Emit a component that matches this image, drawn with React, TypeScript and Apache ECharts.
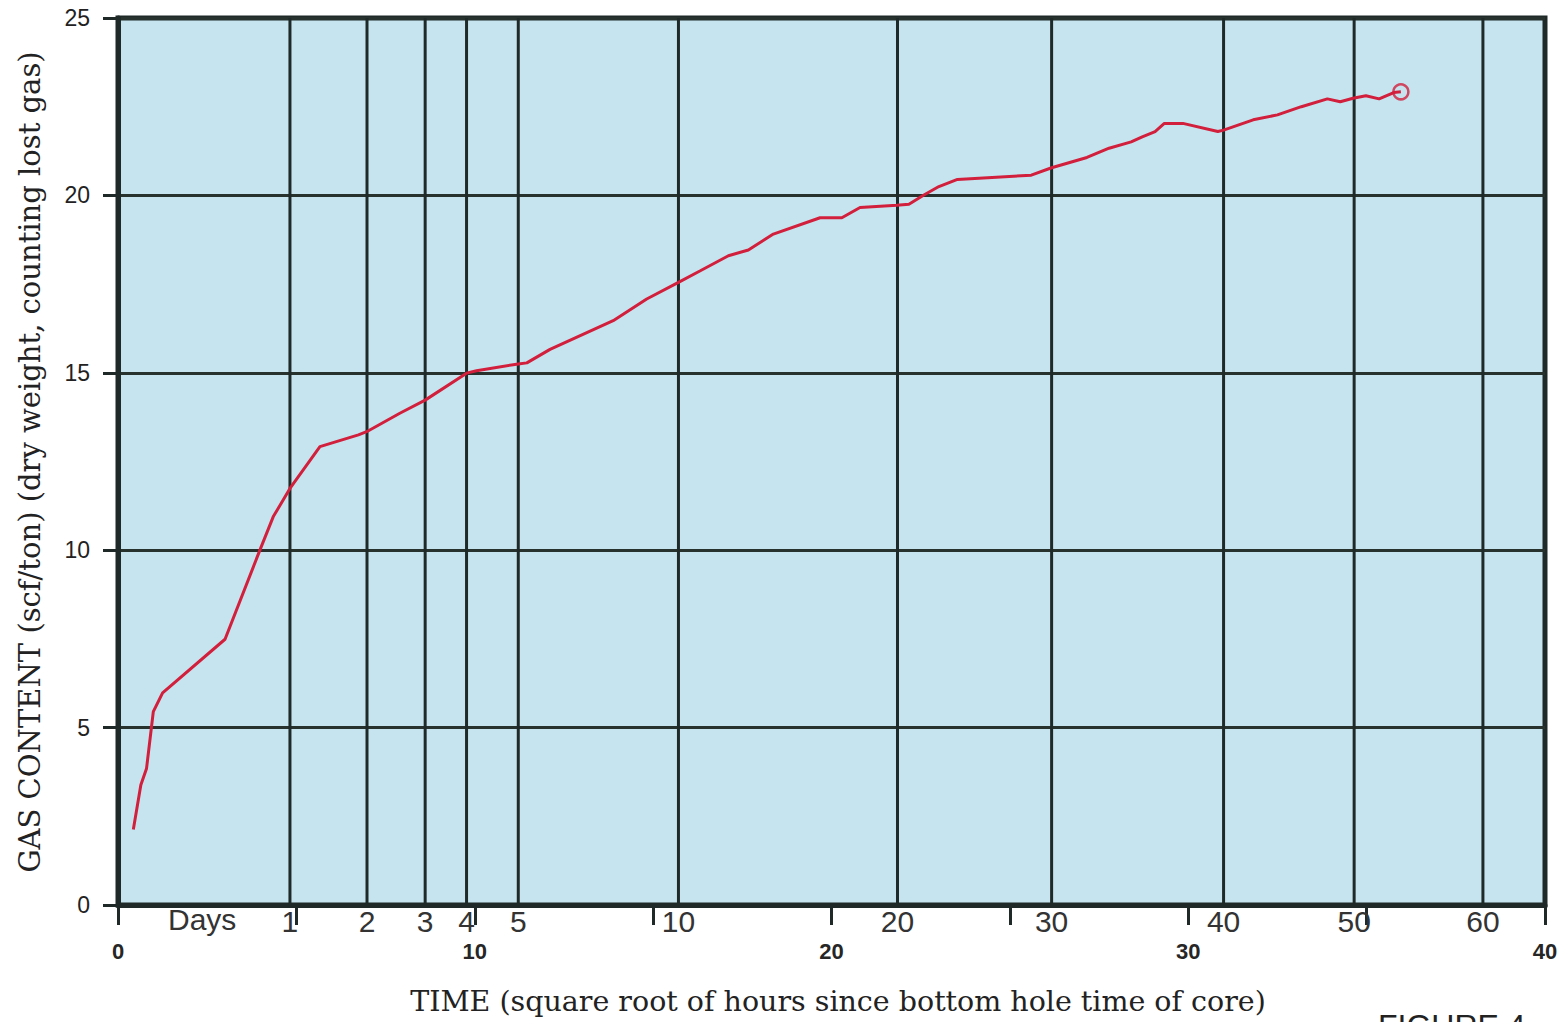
import React, { useEffect, useRef } from "react";
import * as echarts from "echarts";

// Time axis: square root of hours since bottom hole time of core
const timeSqrtHours = [
  0.43, 0.64, 0.8, 0.99, 1.25, 3.0, 3.98, 4.35, 4.82, 5.66,
  6.74, 6.97, 7.9, 8.61, 9.77, 10.05, 11.22, 11.46, 12.11, 13.88,
  14.82, 15.71, 16.31, 17.11, 17.67, 18.37, 19.68, 20.29, 20.8, 21.83,
  22.17, 22.59, 23.01, 23.53, 25.6, 26.17, 27.16, 27.78, 28.4, 28.71,
  29.07, 29.33, 29.85, 30.83, 30.99, 31.82, 32.5, 33.17, 33.9, 34.26,
  34.62, 34.98, 35.35, 35.76, 35.96,
];
// Gas content (scf/ton)
const gasContent = [
  2.13, 3.38, 3.85, 5.45, 5.98, 7.49, 10.01, 10.94, 11.74, 12.92,
  13.25, 13.34, 13.86, 14.23, 14.99, 15.06, 15.25, 15.28, 15.66, 16.47,
  17.08, 17.55, 17.87, 18.3, 18.46, 18.91, 19.37, 19.37, 19.66, 19.72,
  19.75, 20.01, 20.25, 20.45, 20.57, 20.78, 21.07, 21.33, 21.51, 21.65,
  21.8, 22.03, 22.03, 21.8, 21.84, 22.13, 22.27, 22.5, 22.72, 22.64,
  22.74, 22.81, 22.72, 22.9, 22.92,
];
// Day grid lines (position on sqrt-hour axis) and their labels
const dayPositions = [4.82, 6.98, 8.61, 9.77, 11.22, 15.71, 21.85, 26.17, 30.99, 34.65, 38.26];
const dayLabels = ["1", "2", "3", "4", "5", "10", "20", "30", "40", "50", "60"];
// Axis ranges
const xMin = 0, xMax = 40, xInterval = 5;
const yMin = 0, yMax = 25, yInterval = 5;

const DARK = "#1f2a28";
const RED = "#d21f3c";

export default function App() {
  const ref = useRef<HTMLDivElement>(null);
  useEffect(() => {
    if (!ref.current) return;
    const chart = echarts.init(ref.current, undefined, { renderer: "svg" });
    const lineData = timeSqrtHours.map((t, i) => [t, gasContent[i]]);
    const last = lineData[lineData.length - 1];
    const dayData = dayPositions.map((p, i) => [p, dayLabels[i]]);
    chart.setOption({
      animation: false,
      backgroundColor: "#ffffff",
      grid: {
        left: 118,
        right: 19,
        top: 18,
        bottom: 117,
        show: true,
        backgroundColor: "#c6e4ef",
        borderColor: DARK,
        borderWidth: 5,
      },
      xAxis: {
        type: "value",
        min: xMin,
        max: xMax,
        interval: xInterval,
        axisLine: { show: true, onZero: false, lineStyle: { color: DARK, width: 5 } },
        axisTick: { show: true, length: 20, lineStyle: { color: DARK, width: 3 } },
        splitLine: { show: false },
        axisLabel: {
          margin: 35,
          fontFamily: "Liberation Sans",
          fontSize: 22,
          fontWeight: "bold",
          color: "#262626",
          formatter: (v: number) => (v % 10 === 0 ? String(v) : ""),
        },
      },
      yAxis: {
        type: "value",
        min: yMin,
        max: yMax,
        interval: yInterval,
        axisLine: { show: true, onZero: false, lineStyle: { color: DARK, width: 5 } },
        axisTick: { show: true, length: 15, lineStyle: { color: DARK, width: 3 } },
        splitLine: { show: true, lineStyle: { color: "#27322f", width: 3 } },
        axisLabel: {
          margin: 28,
          fontFamily: "Liberation Sans",
          fontSize: 23,
          color: "#222",
        },
      },
      series: [
        {
          type: "custom",
          z: 1,
          silent: true,
          clip: false,
          data: dayData,
          encode: { x: 0 },
          renderItem: (params: any, api: any) => {
            const v = api.value(0);
            const p0 = api.coord([v, yMin]);
            const p1 = api.coord([v, yMax]);
            return {
              type: "group",
              children: [
                {
                  type: "line",
                  shape: { x1: p0[0], y1: p0[1], x2: p1[0], y2: p1[1] },
                  style: { stroke: DARK, lineWidth: 3 },
                },
                {
                  type: "text",
                  x: p0[0],
                  y: p0[1] + 16,
                  style: {
                    text: dayLabels[params.dataIndex],
                    font: '30px "Liberation Sans"',
                    fill: "#333",
                    textAlign: "center",
                    textVerticalAlign: "middle",
                  },
                },
              ],
            };
          },
        },
        {
          type: "line",
          z: 3,
          data: lineData,
          showSymbol: false,
          symbol: "none",
          lineStyle: { color: RED, width: 3 },
          silent: true,
        },
        {
          type: "scatter",
          z: 4,
          data: [last],
          symbol: "circle",
          symbolSize: 15,
          itemStyle: { color: "transparent", borderColor: RED, borderWidth: 2.5 },
          silent: true,
        },
      ],
      graphic: [
        {
          type: "text",
          left: 168,
          top: 904,
          z: 10,
          style: {
            text: "Days",
            font: '30px "Liberation Sans"',
            fill: "#333",
          },
        },
        {
          type: "text",
          x: 30,
          y: 462,
          rotation: Math.PI / 2,
          z: 10,
          style: {
            text: "GAS CONTENT (scf/ton) (dry weight, counting lost gas)",
            font: '29px "DejaVu Serif"',
            fill: "#222",
            textAlign: "center",
            textVerticalAlign: "middle",
          },
        },
        {
          type: "text",
          x: 838,
          y: 1001,
          z: 10,
          style: {
            text: "TIME (square root of hours since bottom hole time of core)",
            font: '28.5px "DejaVu Serif"',
            fill: "#222",
            textAlign: "center",
            textVerticalAlign: "middle",
          },
        },
        {
          type: "text",
          x: 1378,
          y: 1010,
          z: 10,
          style: {
            text: "FIGURE 4",
            font: '32px "Liberation Sans"',
            fill: "#222",
            textAlign: "left",
            textVerticalAlign: "top",
          },
        },
      ],
    });
    return () => chart.dispose();
  }, []);
  return (
    <div
      ref={ref}
      style={{ position: "absolute", left: 0, top: 0, width: 1564, height: 1022, background: "#fff" }}
    />
  );
}
